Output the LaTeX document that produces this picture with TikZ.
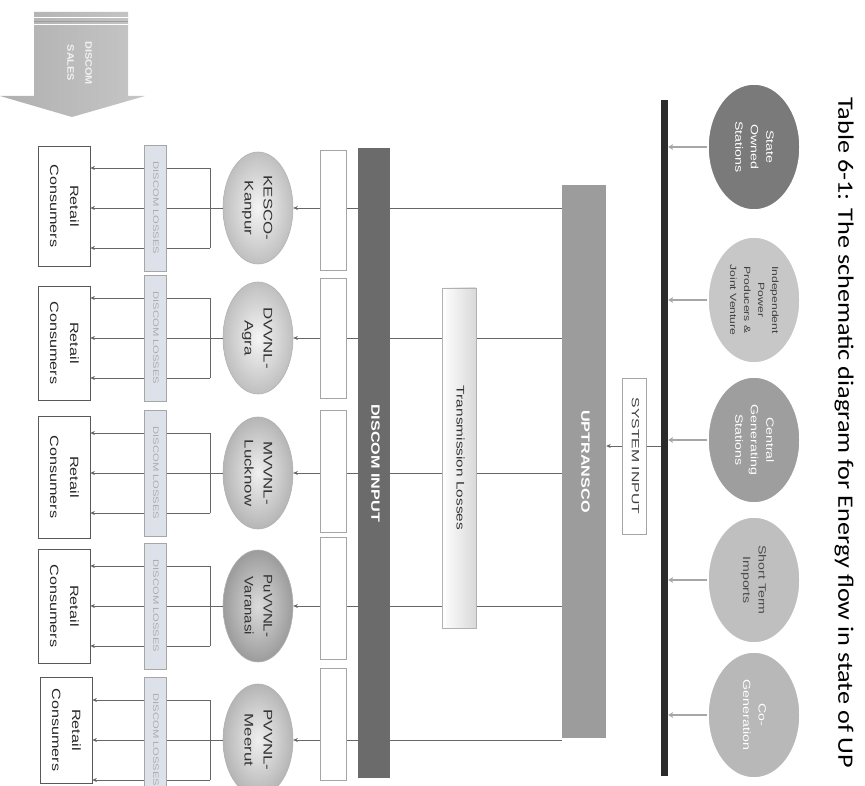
\documentclass[tikz,border=0pt]{standalone}
\usepackage{fontspec}
\usepackage{graphicx}
\setmainfont{Liberation Sans}
\newfontfamily\capfont{Carlito}
\usetikzlibrary{shapes.geometric,arrows.meta}
\newcommand{\vtxt}[2][1.35]{\rotatebox[origin=c]{-90}{\scalebox{#1}[1]{\begin{tabular}{@{}c@{}}#2\end{tabular}}}}
\definecolor{busc}{HTML}{2B2B2B}
\definecolor{upc}{HTML}{9C9C9C}
\definecolor{dic}{HTML}{6B6B6B}
\definecolor{lossc}{HTML}{DDE2EA}
\begin{document}
\begin{tikzpicture}[x=1pt,y=-1pt,
  gen/.style={ellipse, minimum width=92pt, minimum height=126pt, inner sep=0pt,
    draw=white, line width=1.5pt, font=\fontsize{10.5}{15.5}\selectfont},
  genarrow/.style={draw=gray!70, line width=2pt, -{Stealth[length=5pt,width=6pt]}},
  bar/.style={rectangle, inner sep=0pt},
  flow/.style={draw=gray!80!black, line width=0.9pt},
  flowarrow/.style={flow, -{Stealth[length=4.5pt,width=4pt]}},
  emptybox/.style={rectangle, draw=gray!70, fill=white, line width=0.6pt, inner sep=0pt, minimum width=26pt},
  disc/.style={ellipse, draw=gray!60, line width=0.6pt, inner sep=0pt, minimum width=70pt,
    minimum height=112pt, font=\fontsize{12.5}{19}\selectfont, text=black!80},
  lossbox/.style={rectangle, draw=gray!70, fill=lossc, line width=0.6pt, inner sep=0pt,
    minimum width=22pt, minimum height=126pt, text=gray!65, font=\fontsize{8}{9}\selectfont},
  retail/.style={rectangle, draw=gray!70!black, fill=white, line width=0.7pt, inner sep=0pt,
    minimum width=52pt, font=\fontsize{12}{20}\selectfont, text=gray!30!black},
  ]
\clip (0,0) rectangle (865,786);
\fill[white] (0,0) rectangle (865,786);

% caption
\node[anchor=west, rotate=-90, inner sep=0pt, font=\capfont\fontsize{22}{24}\selectfont, text=black]
  (cap) at (844,97) {\scalebox{1.19}[1]{Table 6-1: The schematic diagram for Energy flow in state of UP}};

% generator ellipses
\node[gen, fill=black!52, text=white] (g1) at (754,147) {\vtxt{State\\Owned\\Stations}};
\node[gen, fill=black!22, text=black!75, font=\fontsize{9}{14}\selectfont] (g2) at (754,300) {\vtxt{Independent\\Power\\Producers \&\\Joint Venture}};
\node[gen, fill=black!38, text=white] (g3) at (754,440) {\vtxt{Central\\Generating\\Stations}};
\node[gen, fill=black!25, text=black!70] (g4) at (754,580) {\vtxt{Short Term\\Imports}};
\node[gen, fill=black!28, text=white] (g5) at (754,715) {\vtxt{Co-\\Generation}};

% bus bar
\node[bar, fill=busc, minimum width=7pt, minimum height=676pt] (bus) at (664.5,438) {};
\foreach \g in {g1,g2,g3,g4,g5}
  \draw[genarrow] (\g.west) -- (\g.west -| bus.east);

% UPTRANSCO
\node[bar, fill=upc, minimum width=44pt, minimum height=553pt, text=white,
  font=\fontsize{12}{13}\selectfont\bfseries] (up) at (584,461.5) {\vtxt{UPTRANSCO}};

% system input
\coordinate (sy) at (0,446);
\draw[flowarrow] (bus.west |- sy) -- (up.east |- sy);
\node[rectangle, draw=gray!70, fill=white, line width=0.6pt, minimum width=24pt, minimum height=156pt,
  inner sep=0pt, font=\fontsize{10.5}{11}\selectfont, text=black!75] (sys) at (634,456) {\vtxt[1.5]{SYSTEM INPUT}};

% DISCOM INPUT bar
\node[bar, fill=dic, minimum width=32pt, minimum height=630pt, text=white,
  font=\fontsize{12}{13}\selectfont\bfseries] (di) at (374,463) {\vtxt{DISCOM INPUT}};

% rows
\foreach \i/\y in {1/208,2/338,3/473,4/606,5/740}
  \coordinate (r\i) at (0,\y);
\foreach \i in {1,...,5}
  \draw[flow] (up.west |- r\i) -- (di.east |- r\i);

% transmission losses
\node[bar, draw=gray!60, left color=white, right color=gray!30, minimum width=34pt, minimum height=340pt,
  font=\fontsize{11}{12}\selectfont, text=black!80] (tl) at (459,458) {\vtxt[1.4]{Transmission Losses}};

% DISCOM ellipses
\node[disc, inner color=gray!8, outer color=gray!50] (d1) at (258,208) {\vtxt{KESCO-\\Kanpur}};
\node[disc, inner color=gray!8, outer color=gray!50] (d2) at (258,338) {\vtxt{DVVNL-\\Agra}};
\node[disc, inner color=gray!12, outer color=gray!58] (d3) at (258,473) {\vtxt{MVVNL-\\Lucknow}};
\node[disc, inner color=gray!28, outer color=gray!78] (d4) at (258,606) {\vtxt[1.2]{PuVVNL-\\Varanasi}};
\node[disc, inner color=gray!12, outer color=gray!58] (d5) at (258,740) {\vtxt{PVVNL-\\Meerut}};

% DISCOM input -> ellipses
\foreach \i in {1,...,5}
  \draw[flowarrow] (di.west |- r\i) -- (d\i.east);

% empty boxes
\node[emptybox, minimum height=120pt] (b1) at (333,210) {};
\node[emptybox, minimum height=120pt] (b2) at (333,338) {};
\node[emptybox, minimum height=122pt] (b3) at (333,471) {};
\node[emptybox, minimum height=122pt] (b4) at (333,598) {};
\node[emptybox, minimum height=112pt] (b5) at (333,724) {};

% retail consumers
\node[retail, minimum height=120pt] (c1) at (64,206) {\vtxt{Retail\\Consumers}};
\node[retail, minimum height=114pt] (c2) at (64,343) {\vtxt{Retail\\Consumers}};
\node[retail, minimum height=122pt] (c3) at (64,477) {\vtxt{Retail\\Consumers}};
\node[retail, minimum height=114pt] (c4) at (64,606) {\vtxt{Retail\\Consumers}};
\node[retail, minimum height=106pt] (c5) at (66,730) {\vtxt{Retail\\Consumers}};

% branches
\foreach \i/\y in {1/208,2/338,3/473,4/606,5/740}{
  \coordinate (j\i) at (210,\y);
  \coordinate (jt\i) at (210,\y-40);
  \coordinate (jb\i) at (210,\y+40);
  \draw[flow] (d\i.west) -- (j\i);
  \draw[flow] (jt\i) -- (jb\i);
  \draw[flowarrow] (jt\i) -- (jt\i -| c\i.east);
  \draw[flowarrow] (j\i) -- (j\i -| c\i.east);
  \draw[flowarrow] (jb\i) -- (jb\i -| c\i.east);
  \node[lossbox] (l\i) at (155,\y) {\vtxt[1.4]{DISCOM LOSSES}};
}

% DISCOM SALES arrow
\shade[left color=gray!62, right color=gray!45] (34,12) -- (128,12) -- (128,96) -- (145,96) -- (72,117) -- (0,96) -- (34,96) -- cycle;
\draw[white, line width=1pt] (34,18) -- (128,18);
\draw[gray!75, line width=0.8pt] (34,21) -- (128,21);
\draw[white, line width=1pt] (34,25) -- (128,25);
\node[text=gray!12, font=\fontsize{9.5}{18}\selectfont\bfseries] (sales) at (80,63) {\vtxt[1.15]{DISCOM\\SALES}};
\end{tikzpicture}
\end{document}
